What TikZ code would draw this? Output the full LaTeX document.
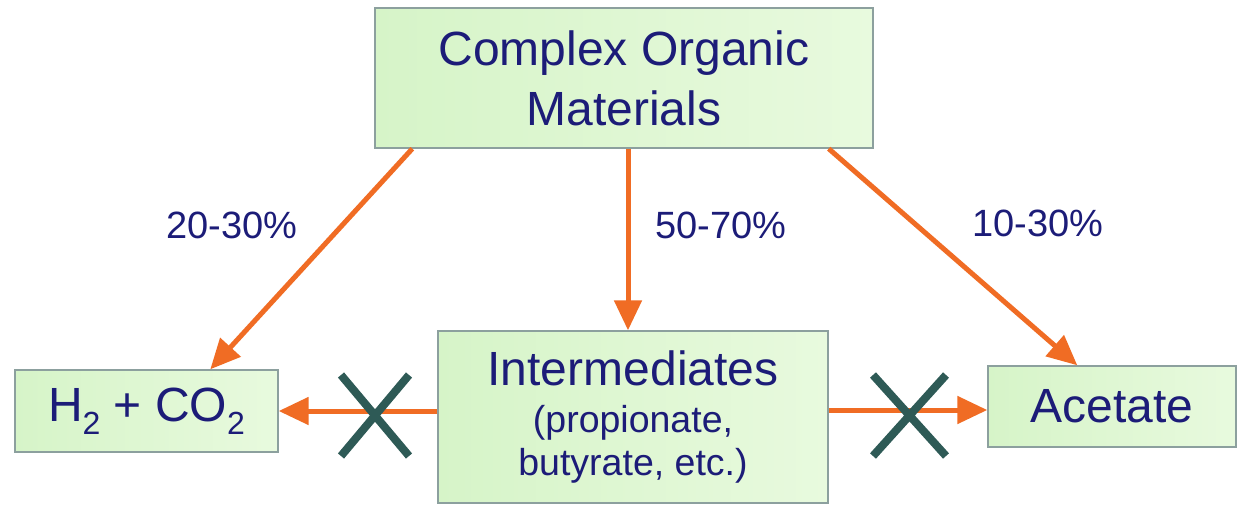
\documentclass[tikz,border=0pt]{standalone}
\usepackage{fontspec}
\setmainfont{Liberation Sans}
\usetikzlibrary{arrows.meta}
\definecolor{navytxt}{RGB}{28,28,120}
\definecolor{arroworange}{RGB}{240,108,36}
\definecolor{xcol}{RGB}{46,90,86}
\definecolor{boxline}{RGB}{140,160,158}
\definecolor{gleft}{RGB}{214,244,200}
\definecolor{gright}{RGB}{232,250,222}
\tikzset{
  greenbox/.style={draw=boxline, line width=1.4pt, left color=gleft, right color=gright,
    text=navytxt, align=center, inner sep=0pt},
  flow/.style={draw=arroworange, line width=5pt, -{Triangle[length=30pt,width=27pt]}},
  pct/.style={text=navytxt, anchor=base west, inner sep=0pt, font=\fontsize{38}{40}\selectfont},
  xmark/.style={draw=xcol, line width=8pt}
}
\begin{document}
\begin{tikzpicture}[x=1pt,y=-1pt]
\useasboundingbox (0,0) rectangle (1240,504);
\fill[white] (0,0) rectangle (1240,504);
\node[greenbox, minimum width=498pt, minimum height=140pt,
  font=\fontsize{48}{60}\selectfont] (top) at (624,78) {Complex Organic\\Materials};
\node[greenbox, minimum width=263pt, minimum height=82pt,
  font=\fontsize{48}{50}\selectfont] (h2) at (146.5,411)
  {H\raisebox{-13pt}{\fontsize{32}{32}\selectfont 2} + CO\raisebox{-13pt}{\fontsize{32}{32}\selectfont 2}};
\node[greenbox, minimum width=390pt, minimum height=172pt,
  font=\fontsize{37.5}{42}\selectfont] (int) at (633,417)
  {{\fontsize{48}{47}\selectfont Intermediates}\\[5pt](propionate,\\[1pt]butyrate, etc.)};
\node[greenbox, minimum width=248pt, minimum height=81pt,
  font=\fontsize{48}{50}\selectfont] (ac) at (1112,406.5) {Acetate};
% arrows
\draw[flow] ([xshift=38pt]top.south west) -- ([xshift=196pt]h2.north west);
\draw[flow] ([xshift=4pt]top.south) -- ([xshift=-5pt]int.north);
\draw[flow] ([xshift=-45pt]top.south east) -- ([xshift=90pt]ac.north west);
\draw[flow] ([yshift=6pt]int.west) -- (h2.east);
\draw[flow] ([yshift=7pt]int.east) -- ([yshift=-3.5pt]ac.west);
% labels
\node[pct] (p1) at (166,238) {20-30\%};
\node[pct] (p2) at (655,238) {50-70\%};
\node[pct] (p3) at (972,236) {10-30\%};
% crosses
\draw[xmark] (341,375) -- (409,456) (409,375) -- (341,456);
\draw[xmark] (873,375) -- (946,456) (946,375) -- (873,456);
\end{tikzpicture}
\end{document}
